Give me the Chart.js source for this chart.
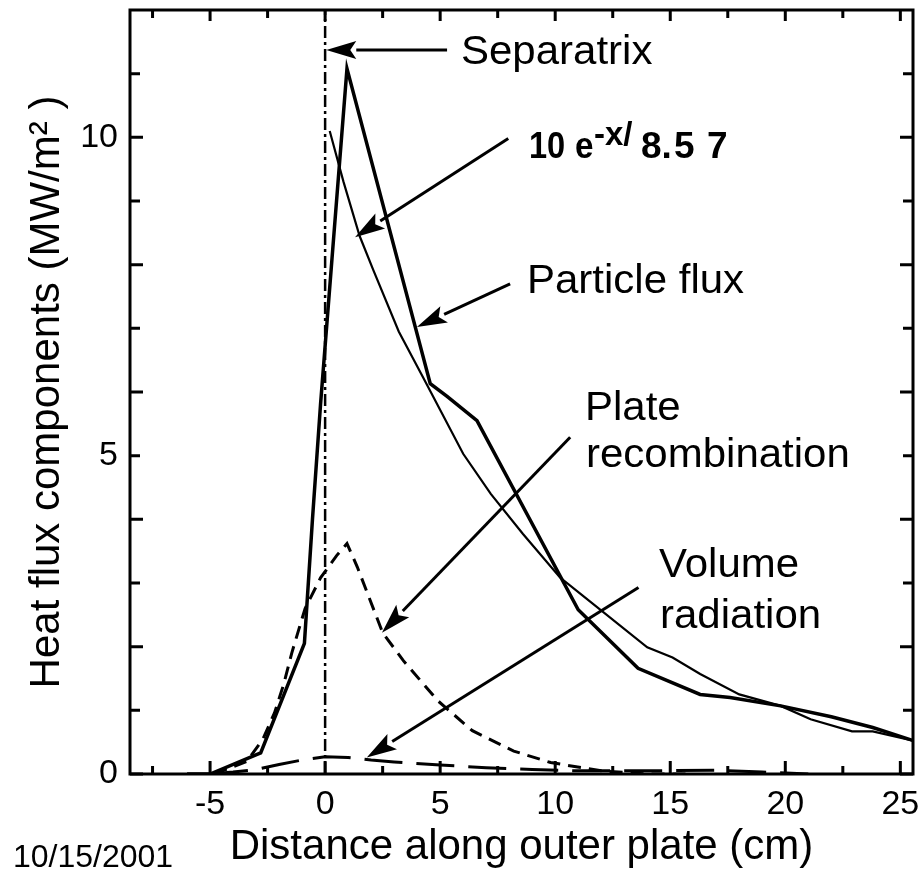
<!DOCTYPE html>
<html>
<head>
<meta charset="utf-8">
<script src="https://cdn.jsdelivr.net/npm/chart.js@4.4.1/dist/chart.umd.min.js"></script>
<style>
  html, body { margin: 0; padding: 0; background: #fff; }
  #c { display: block; width: 924px; height: 895px; }
</style>
</head>
<body>
<canvas id="c" width="924" height="895"></canvas>
<script>
// Heat flux components along the outer divertor plate

const particleX = [-6, -5, -2.8, -0.9, -0.55, -0.2, 0.3, 0.95, 4.57, 5.3, 6.6, 11.0, 13.6, 16.3, 17.6, 19.8, 22.0, 23.8, 25.6];
const particleY = [0, 0, 0.33, 2.05, 4.0, 5.8, 8.1, 11.08, 6.13, 5.93, 5.55, 2.58, 1.66, 1.25, 1.2, 1.07, 0.9, 0.73, 0.52];

// thin line: the 10 e^(-x/8.57) fit as drawn
const fitX = [0.2, 0.8, 1.5, 2.1, 3.2, 4.3, 6.0, 7.2, 8.6, 10.2, 11.1, 14.0, 15.1, 16.3, 18.0, 19.8, 21.1, 22.9, 23.8, 25.6];
const fitY = [10.1, 9.3, 8.45, 7.91, 6.95, 6.2, 5.03, 4.4, 3.77, 3.09, 2.83, 1.99, 1.83, 1.57, 1.25, 1.07, 0.86, 0.67, 0.67, 0.52];

const plateX = [-4.8, -3.4, -2.7, -2.2, -1.8, -1.45, -0.87, -0.2, 0.5, 0.95, 1.4, 2.5, 3.4, 4.9, 6.4, 8.2, 9.8, 12.0, 14.0, 16.0];
const plateY = [0, 0.2, 0.55, 0.96, 1.41, 1.9, 2.6, 3.08, 3.43, 3.62, 3.25, 2.22, 1.78, 1.15, 0.68, 0.36, 0.18, 0.05, 0, 0];

const volumeX = [-5, -4, -3, -2, -1, 0, 1, 2, 3, 5, 7, 9, 11, 14, 17, 19, 21];
const volumeY = [0, 0.03, 0.07, 0.15, 0.22, 0.27, 0.26, 0.22, 0.19, 0.14, 0.1, 0.07, 0.05, 0.05, 0.06, 0.03, 0];

const separatrixX = [0, 0];
const separatrixY = [0, 12];

const xTicks = [-5, 0, 5, 10, 15, 20, 25];
const xMinor = [-7.5, -2.5, 2.5, 7.5, 12.5, 17.5, 22.5];
const yTicks = [0, 5, 10];
const yMinor = [1, 2, 3, 4, 6, 7, 8, 9, 11];

// arrows, in data units: [fromX, fromY, toX, toY]
const arrows = [
  [5.3, 11.37, 0.05, 11.37],
  [7.96, 9.98, 1.30, 8.43],
  [8.04, 7.70, 3.99, 7.02],
  [10.65, 5.29, 2.47, 2.22],
  [13.62, 2.93, 1.81, 0.26]
];

const SANS = '"Liberation Sans", Arial, sans-serif';

function pts(xs, ys) {
  return xs.map((v, i) => ({ x: v, y: ys[i] }));
}

function drawArrow(ctx, x1, y1, x2, y2) {
  const len = 30, half = 9;
  const ang = Math.atan2(y2 - y1, x2 - x1);
  const bx = x2 - len * Math.cos(ang);
  const by = y2 - len * Math.sin(ang);
  ctx.beginPath();
  ctx.moveTo(x1, y1);
  ctx.lineTo(bx, by);
  ctx.stroke();
  ctx.beginPath();
  ctx.moveTo(x2, y2);
  ctx.lineTo(bx + half * Math.sin(ang), by - half * Math.cos(ang));
  ctx.lineTo(bx + 6 * Math.cos(ang), by + 6 * Math.sin(ang));
  ctx.lineTo(bx - half * Math.sin(ang), by + half * Math.cos(ang));
  ctx.closePath();
  ctx.fill();
}

// text slightly widened or narrowed, like the original figure's lettering
function wideText(ctx, s, x, y, sx) {
  ctx.save();
  ctx.translate(x, y);
  ctx.scale(sx, 1);
  ctx.fillText(s, 0, 0);
  ctx.restore();
}

const framePlugin = {
  id: 'frame',
  afterDatasetsDraw(chart) {
    const { ctx, chartArea: a, scales: { x, y } } = chart;
    ctx.save();
    ctx.strokeStyle = '#000';
    ctx.fillStyle = '#000';
    ctx.lineWidth = 3;
    ctx.strokeRect(a.left, a.top, a.right - a.left, a.bottom - a.top);

    // inward ticks on all four sides
    ctx.beginPath();
    xTicks.forEach(v => {
      const px = x.getPixelForValue(v);
      ctx.moveTo(px, a.bottom); ctx.lineTo(px, a.bottom - 13);
      ctx.moveTo(px, a.top); ctx.lineTo(px, a.top + 11);
    });
    xMinor.forEach(v => {
      const px = x.getPixelForValue(v);
      ctx.moveTo(px, a.bottom); ctx.lineTo(px, a.bottom - 8);
      ctx.moveTo(px, a.top); ctx.lineTo(px, a.top + 8);
    });
    yTicks.concat(yMinor).forEach(v => {
      const py = y.getPixelForValue(v);
      const l = v % 2 === 0 ? 13 : 10;
      ctx.moveTo(a.left, py); ctx.lineTo(a.left + l, py);
      ctx.moveTo(a.right, py); ctx.lineTo(a.right - l, py);
    });
    ctx.stroke();

    // annotation arrows
    ctx.lineWidth = 3;
    arrows.forEach(r => {
      drawArrow(ctx, x.getPixelForValue(r[0]), y.getPixelForValue(r[1]),
                x.getPixelForValue(r[2]), y.getPixelForValue(r[3]));
    });

    // annotation text
    ctx.textBaseline = 'alphabetic';
    ctx.textAlign = 'left';
    ctx.font = '40px ' + SANS;
    wideText(ctx, 'Separatrix', 461, 64, 1.05);
    wideText(ctx, 'Particle flux', 527, 293, 1.05);
    wideText(ctx, 'Plate', 585, 420, 1.05);
    wideText(ctx, 'recombination', 586, 467, 1.05);
    wideText(ctx, 'Volume', 659, 577, 1.05);
    wideText(ctx, 'radiation', 660, 628, 1.05);

    ctx.font = 'bold 37px ' + SANS;
    wideText(ctx, '10', 529, 158, 0.88);
    wideText(ctx, 'e', 575, 158, 0.9);
    ctx.font = 'bold 33px ' + SANS;
    wideText(ctx, '-x/', 594, 145, 1.0);
    ctx.font = 'bold 37px ' + SANS;
    wideText(ctx, '8.', 641, 158, 1.0);
    wideText(ctx, '5', 674, 158, 1.0);
    wideText(ctx, '7', 707, 158, 1.0);

    ctx.font = '32px ' + SANS;
    ctx.fillText('10/15/2001', 13, 867);
    ctx.restore();
  }
};

new Chart(document.getElementById('c'), {
  type: 'line',
  data: {
    datasets: [
      { label: 'Particle flux', data: pts(particleX, particleY), borderColor: '#000', borderWidth: 3.5 },
      { label: '10 e^-x/8.57', data: pts(fitX, fitY), borderColor: '#000', borderWidth: 2.2 },
      { label: 'Plate recombination', data: pts(plateX, plateY), borderColor: '#000', borderWidth: 3, borderDash: [13, 8] },
      { label: 'Volume radiation', data: pts(volumeX, volumeY), borderColor: '#000', borderWidth: 3, borderDash: [38, 14] },
      { label: 'Separatrix', data: pts(separatrixX, separatrixY), borderColor: '#000', borderWidth: 2.5, borderDash: [12, 4, 3, 4] }
    ]
  },
  options: {
    responsive: false,
    animation: false,
    elements: { point: { radius: 0 }, line: { tension: 0, fill: false } },
    layout: { padding: { top: 10, right: 11, bottom: 0, left: 0 } },
    plugins: { legend: { display: false }, tooltip: { enabled: false } },
    scales: {
      x: {
        type: 'linear',
        min: -8.48,
        max: 25.55,
        afterFit(s) { s.height = 121; s.paddingLeft = 0; s.paddingRight = 0; },
        afterBuildTicks(s) { s.ticks = xTicks.map(v => ({ value: v })); },
        grid: { display: false, drawTicks: false },
        border: { display: false },
        ticks: { color: '#000', font: { family: SANS, size: 34 }, padding: 10, maxRotation: 0 },
        title: {
          display: true,
          text: 'Distance along outer plate (cm)',
          color: '#000',
          font: { family: SANS, size: 42 },
          padding: { top: 0, bottom: 22 }
        }
      },
      y: {
        type: 'linear',
        min: 0,
        max: 12,
        afterFit(s) { s.width = 130; s.paddingTop = 0; s.paddingBottom = 0; },
        afterBuildTicks(s) { s.ticks = yTicks.map(v => ({ value: v })); },
        grid: { display: false, drawTicks: false },
        border: { display: false },
        ticks: { color: '#000', font: { family: SANS, size: 34 }, padding: 12 },
        title: {
          display: true,
          text: 'Heat flux components (MW/m\u00B2 )',
          color: '#000',
          font: { family: SANS, size: 42 },
          padding: { top: 22, bottom: 0 }
        }
      }
    }
  },
  plugins: [framePlugin]
});
</script>
</body>
</html>
